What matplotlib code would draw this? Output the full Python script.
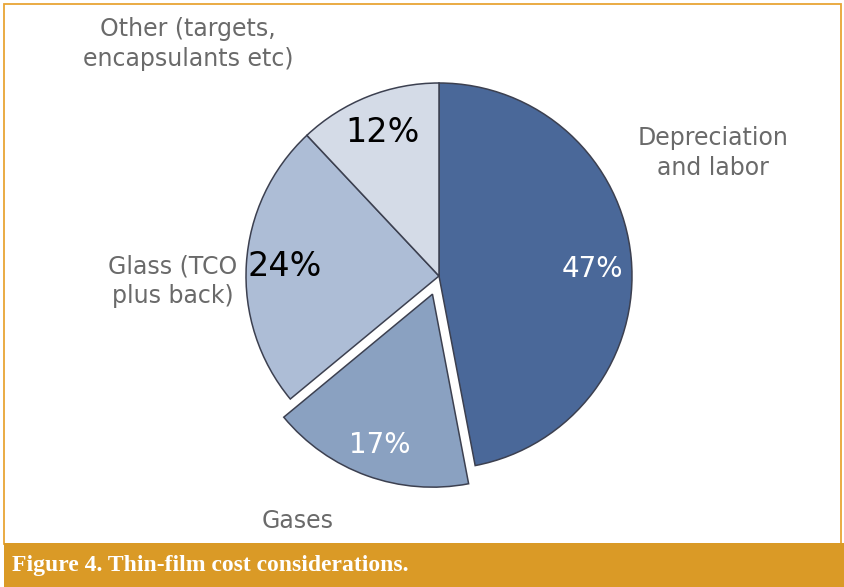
import matplotlib.pyplot as plt
from matplotlib.patches import Rectangle

# data
labels = ['Depreciation\nand labor', 'Gases', 'Glass (TCO\nplus back)', 'Other (targets,\nencapsulants etc)']
shares = [47, 17, 24, 12]
colors = ['#4a6899', '#8aa1c1', '#adbdd6', '#d4dbe7']
pct_colors = ['white', 'white', 'black', 'black']
pct_sizes = [20, 20, 24, 24]
explode = [0, 0.1, 0, 0]
caption = 'Figure 4. Thin-film cost considerations.'

W, H = 845, 587
fig = plt.figure(figsize=(W / 100, H / 100), dpi=100)

# pie axes: center at (439, 276) px from top, radius 193 px
cx, cy, r = 439, 276, 193
ax = fig.add_axes([(cx - r) / W, (H - cy - r) / H, 2 * r / W, 2 * r / H])
wedges, texts, autotexts = ax.pie(shares, colors=colors, explode=explode,
                                  startangle=90, counterclock=False,
                                  autopct='%d%%', pctdistance=0.8,
                                  wedgeprops=dict(edgecolor='#3c4050', linewidth=1.1))
for t, c, s in zip(autotexts, pct_colors, pct_sizes):
    t.set_color(c)
    t.set_fontsize(s)
# white labels sit a bit lower in the reference
autotexts[0].set_y(autotexts[0].get_position()[1] - 0.04)
autotexts[1].set_y(autotexts[1].get_position()[1] - 0.03)
ax.set_xlim(-1, 1)
ax.set_ylim(-1, 1)
ax.set_aspect('auto')
ax.axis('off')
for w in wedges:
    w.set_clip_on(False)

# outside labels, placed in pixel coords
def px(x, y):
    return x / W, 1 - y / H

label_pos = [(713, 153), (298, 521), (173, 281), (188, 44)]
for lab, (x, y) in zip(labels, label_pos):
    fig.text(*px(x, y), lab, ha='center', va='center', fontsize=17,
             color='#6a6a6a', linespacing=1.3)

# frame and caption bar
orange = '#da9a26'
fig.patches.append(Rectangle(px(4, 544), (841 - 4) / W, (544 - 4) / H,
                             transform=fig.transFigure, fill=False,
                             edgecolor='#e8a535', linewidth=1.3))
fig.patches.append(Rectangle(px(4, 587), (845 - 4) / W, (587 - 543) / H,
                             transform=fig.transFigure, facecolor=orange,
                             edgecolor='none'))
fig.text(*px(12, 566), caption, ha='left', va='center', color='white',
         fontsize=17, fontweight='bold', family='Liberation Serif')

fig.savefig('out.png', dpi=100)
